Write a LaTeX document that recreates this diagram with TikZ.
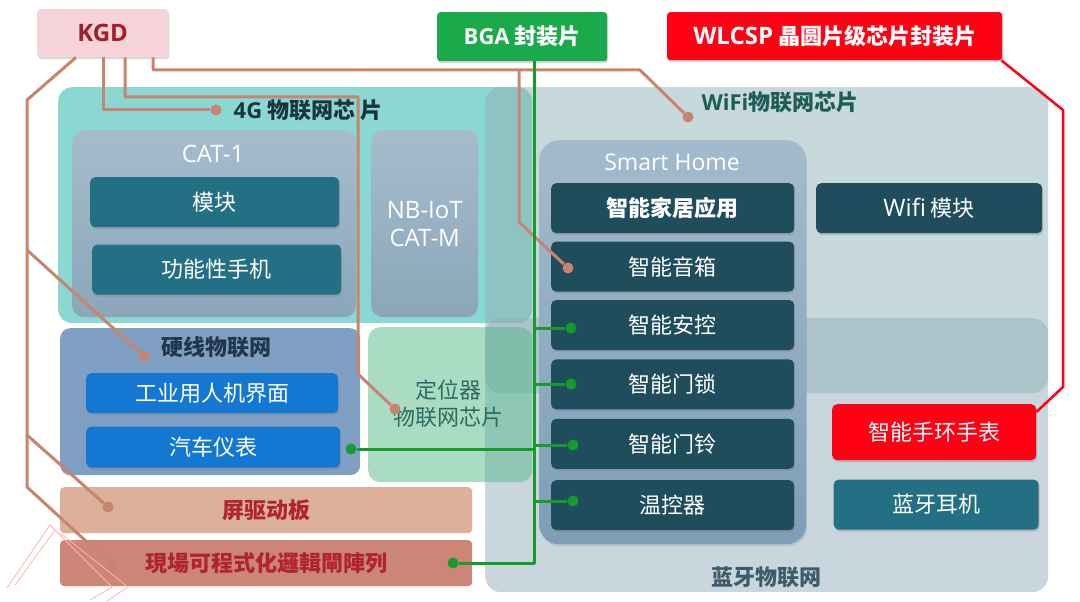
\documentclass[tikz,border=0pt]{standalone}
\usepackage{fontspec}
\setmainfont{Noto Sans CJK SC}
\newfontfamily\latf{Open Sans}
\usetikzlibrary{positioning,shadows}
\definecolor{iotteal}{HTML}{8BD7D2}
\definecolor{catgraytop}{HTML}{A5BCCC}
\definecolor{catgraybot}{HTML}{8BA6BA}
\definecolor{hometop}{HTML}{A3BBCC}
\definecolor{homebot}{HTML}{7E9EB6}
\definecolor{wifigray}{HTML}{8FB3B5}
\definecolor{btgray}{HTML}{93ADBB}
\definecolor{wiregray}{HTML}{7FA0C2}
\definecolor{locgreen}{HTML}{55B98A}
\definecolor{screenpink}{HTML}{DDB09C}
\definecolor{fpgared}{HTML}{CB8678}
\definecolor{modteal}{HTML}{236F83}
\definecolor{homedark}{HTML}{1F4D5B}
\definecolor{hmiblue}{HTML}{1478D2}
\definecolor{kgdpink}{HTML}{F6D3D8}
\definecolor{kgdtext}{HTML}{A21E2C}
\definecolor{bgagreen}{HTML}{1BAA4B}
\definecolor{wlred}{HTML}{FF0014}
\definecolor{linebrown}{HTML}{C9846F}
\definecolor{linegreen}{HTML}{179B2D}
\definecolor{lab4g}{HTML}{18363B}
\definecolor{labwifi}{HTML}{1E5D57}
\definecolor{labwire}{HTML}{22364A}
\definecolor{labbt}{HTML}{3F5B69}
\definecolor{labloc}{HTML}{2C6B5F}
\definecolor{boardtext}{HTML}{B0252B}
\newcommand\boxfont{\fontsize{22}{27}\selectfont}
\newcommand\latbox{\fontsize{24}{28}\selectfont\latf}
\tikzset{
  panel/.style={anchor=north west, inner sep=0pt, rounded corners=14pt},
  subpanel/.style={panel, rounded corners=12pt, top color=catgraytop, bottom color=catgraybot},
  tagbox/.style={anchor=north west, inner sep=0pt, rounded corners=3pt, font=\boxfont\bfseries,
    drop shadow={opacity=.3, shadow xshift=1pt, shadow yshift=-2pt}},
  itembox/.style={inner sep=0pt, rounded corners=5pt, text=white, font=\boxfont, minimum height=50pt,
    drop shadow={opacity=.35, shadow xshift=1pt, shadow yshift=-2pt}},
  grouplabel/.style={font=\boxfont\bfseries, inner sep=1pt},
  kgdline/.style={draw=linebrown, line width=3pt, line join=round},
  bgaline/.style={draw=linegreen, line width=3pt, line join=round},
  wlline/.style={draw=wlred, line width=2.5pt, line join=round},
  kdot/.style={circle, fill=linebrown, inner sep=0pt, minimum size=11pt},
  gdot/.style={circle, fill=linegreen, inner sep=0pt, minimum size=11pt},
  deco/.style={draw=red!30, line width=.8pt}
}

\begin{document}
\begin{tikzpicture}[x=1pt, y=-1pt]
    \useasboundingbox (0,0) rectangle (1080,602);

    % 4G panel
    \node[panel, fill=iotteal, minimum width=474pt, minimum height=236pt] (p4g) at (58,87) {};
    \node[subpanel, minimum width=284pt, minimum height=187pt] (pcat) at (72,130) {};
    \node[subpanel, minimum width=107pt, minimum height=187pt, text=white, font=\latbox, align=center] (pnb) at (371,130) {NB-IoT\\CAT-M};
    \node[text=white, font=\latbox] (tcat) at (213,154) {CAT-1};
    \node[itembox, fill=modteal, minimum width=249pt, anchor=north west] (bmod) at (90,177) {模块};
    \node[itembox, fill=modteal, minimum width=249pt, below=17pt of bmod, xshift=2pt] (bphone) {功能性手机};

    % wifi / bluetooth panels
    \node[panel, fill=wifigray, fill opacity=.5, rounded corners=16pt, minimum width=563pt, minimum height=306pt] (pwifi) at (485,87) {};
    \node[panel, fill=btgray, fill opacity=.5, rounded corners=16pt, minimum width=563pt, minimum height=274pt] (pbt) at (485,318) {};

    % wired, location, boards
    \node[panel, fill=wiregray, rounded corners=10pt, minimum width=300pt, minimum height=147pt] (pwire) at (60,328) {};
    \node[itembox, fill=hmiblue, minimum width=252pt, minimum height=40pt, anchor=north west] (bhmi) at (86,373) {工业用人机界面};
    \node[itembox, fill=hmiblue, minimum width=254pt, minimum height=41pt, below=13pt of bhmi, xshift=1pt] (bcar) {汽车仪表};
    \node[panel, fill=locgreen, fill opacity=.5, rounded corners=12pt, minimum width=164pt, minimum height=155pt] (ploc) at (368,327) {};
    \node[grouplabel, font=\boxfont, text=labloc, align=center] (tloc) at (448,404) {定位器\\物联网芯片};
    \node[panel, fill=screenpink, rounded corners=4pt, minimum width=412pt, minimum height=46pt, font=\boxfont\bfseries, text=boardtext] (pscreen) at (60,487) {屏驱动板};
    \node[panel, fill=fpgared, rounded corners=4pt, minimum width=412pt, minimum height=46pt, font=\boxfont\bfseries, text=boardtext] (pfpga) at (60,540) {現場可程式化邏輯閘陣列};

    % smart home
    \node[panel, rounded corners=20pt, top color=hometop, bottom color=homebot, minimum width=267pt, minimum height=404pt,
      drop shadow={opacity=.25, shadow xshift=1pt, shadow yshift=-2pt}] (psmart) at (539,140) {};
    \node[text=white, font=\fontsize{23}{27}\selectfont\latf] (tsmart) at (672,162) {Smart Home};
    \node[itembox, fill=homedark, minimum width=243pt, anchor=north west, font=\boxfont\bfseries] (bapp) at (551,183) {智能家居应用};
    \node[itembox, fill=homedark, minimum width=243pt, below=8pt of bapp] (bspk) {智能音箱};
    \node[itembox, fill=homedark, minimum width=243pt, below=8pt of bspk] (bsec) {智能安控};
    \node[itembox, fill=homedark, minimum width=243pt, below=9pt of bsec] (block) {智能门锁};
    \node[itembox, fill=homedark, minimum width=243pt, below=9pt of block] (bbell) {智能门铃};
    \node[itembox, fill=homedark, minimum width=243pt, below=11pt of bbell] (btherm) {温控器};
    \node[itembox, fill=homedark, minimum width=226pt, anchor=north west] (bwifi) at (816,183) {{\latbox Wifi} 模块};
    \node[itembox, fill=wlred, minimum width=204pt, minimum height=56pt, anchor=north west] (bwatch) at (832,404) {智能手环手表};
    \node[itembox, fill=modteal, minimum width=205pt, below=19pt of bwatch, xshift=2pt] (bear) {蓝牙耳机};

    % group labels
    \node[grouplabel, text=lab4g] (t4g) at (308,110) {{\latf 4G} 物联网芯\hspace{5pt}片};
    \node[grouplabel, text=labwifi] (twifi) at (780,102) {{\latf WiFi}物联网芯片};
    \node[grouplabel, text=labwire] (twire) at (216,347) {硬线物联网};
    \node[grouplabel, text=labbt] (tbt) at (766,577) {蓝牙物联网};

    % package tags
    \node[tagbox, fill=kgdpink, text=kgdtext, minimum width=131pt, minimum height=48pt] (kgd) at (37,9) {{\latbox KGD}};
    \node[tagbox, fill=bgagreen, text=white, minimum width=170pt, minimum height=49pt] (bga) at (437,12) {{\latf BGA} 封装片};
    \node[tagbox, fill=wlred, text=white, minimum width=335pt, minimum height=48pt] (wlcsp) at (667,12) {{\latbox WLCSP} 晶圆片级芯片封装片};

    % end dots
    \node[kdot] (d4g) at (216,110) {};
    \node[kdot] (dwifi) at (688,117) {};
    \node[kdot] (dspk) at (568,268) {};
    \node[kdot] (dloc) at (395,409) {};
    \node[kdot] (dwire) at (144,356) {};
    \node[kdot] (dscreen) at (108,507) {};
    \node[kdot] (dfpga) at (112,565) {};
    \node[gdot] (gsec) at (571,328) {};
    \node[gdot] (glock) at (571,384) {};
    \node[gdot] (gbell) at (573,445) {};
    \node[gdot] (gtherm) at (573,501) {};
    \node[gdot] (gcar) at (351,449) {};
    \node[gdot] (gfpga) at (453,563) {};

    % KGD links
    \draw[kgdline] ([xshift=39pt]kgd.south west) -- (27,100) -- (27,487) -- (dfpga);
    \draw[kgdline] (27,250) -- (dwire);
    \draw[kgdline] (27,435) -- (dscreen);
    \draw[kgdline] ([xshift=66pt]kgd.south west) |- (d4g);
    \draw[kgdline] ([xshift=88pt]kgd.south west) |- (358,97) -- (358,374) -- (dloc);
    \draw[kgdline] ([xshift=116pt]kgd.south west) |- (640,70) -- (dwifi);
    \draw[kgdline] (519,70) -- (519,222) -- (dspk);

    % BGA links
    \coordinate (trunk) at ([xshift=12pt]bga.south);
    \draw[bgaline] (trunk) |- (gfpga);
    \foreach \g in {gsec,glock,gbell,gtherm,gcar}
        \draw[bgaline] (\g) -- (\g -| trunk);

    % WLCSP link
    \draw[wlline] ([xshift=-1pt]wlcsp.south east) -- (1063,110) -- (1063,387) -- ([yshift=-8pt]bwatch.north east);

    % corner ornament
    \draw[deco] (7,588) -- (50,525) -- (112,587) -- (90,600);
    \draw[deco] (15,585) -- (55,530);
    \draw[deco] (60,533) -- (128,587) -- (107,601);
\end{tikzpicture}
\end{document}
